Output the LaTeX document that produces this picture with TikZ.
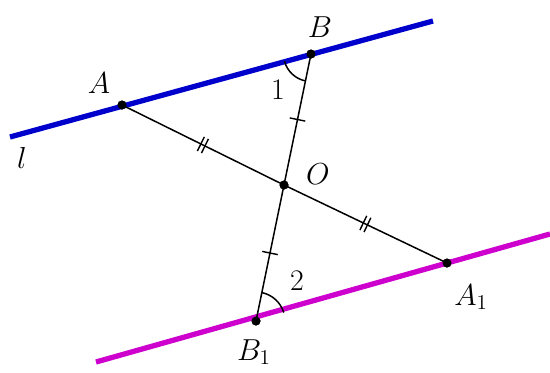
\documentclass[tikz,border=0pt]{standalone}
\usepackage{amsmath,amssymb}
\usepackage{xcolor}
\usepackage{tikz}
\usetikzlibrary{calc, angles, decorations.markings}

\definecolor{lineblue}{RGB}{0,0,205}
\definecolor{linemag}{RGB}{205,0,205}

\tikzset{
  dot/.style={circle, fill=black, inner sep=0pt, minimum size=0.18cm},
  lbl/.style={font=\fontsize{17}{19}\selectfont},
  onetick/.style={postaction={decorate, decoration={markings,
      mark=at position 0.5 with {\draw[line width=0.8pt] (0,-4.5pt) -- (0,4.5pt);}}}},
  twotick/.style={postaction={decorate, decoration={markings,
      mark=at position 0.5 with {\draw[line width=0.8pt] (-1.3pt,-4.5pt) -- (-1.3pt,4.5pt) (1.3pt,-4.5pt) -- (1.3pt,4.5pt);}}}}
}

\begin{document}
\begin{tikzpicture}[line width=0.85pt]
            \useasboundingbox (0,0) rectangle (11,7.44);

            % Points
            \node[dot] (A) at (2.44, 5.34) {};
            \node[dot] (B) at (6.22, 6.36) {};
            \node[dot] (O) at (5.68, 3.74) {};
            \node[dot] (A1) at (8.94, 2.18) {};
            \node[dot] (B1) at (5.12, 1.02) {};

            % Parallel lines
            \coordinate (lL) at (0.20, 4.70);
            \coordinate (lR) at (8.66, 7.02);
            \coordinate (mL) at (1.92, 0.20);
            \coordinate (mR) at (11.0, 2.76);
            \draw[lineblue, line width=3pt] (lL) -- (lR);
            \draw[linemag, line width=3pt] (mL) -- (mR);

            % Segments with equal marks
            \draw[twotick] (A.center) -- (O.center);
            \draw[twotick] (O.center) -- (A1.center);
            \draw[onetick] (O.center) -- (B.center);
            \draw[onetick] (B1.center) -- (O.center);

            % Angles
            \pic[draw, line width=0.85pt, angle radius=0.55cm] {angle = A--B--O};
            \pic[draw, line width=0.85pt, angle radius=0.58cm] {angle = A1--B1--O};

            % Dots again on top
            \foreach \p in {A,B,O,A1,B1}
              \fill (\p.center) circle (0.09);

            % Labels
            \node[lbl] (tA) at (1.98, 5.78) {$A$};
            \node[lbl] (tB) at (6.40, 6.90) {$B$};
            \node[lbl] (tO) at (6.36, 3.96) {$O$};
            \node[lbl] (tA1) at (9.42, 1.50) {$A_1$};
            \node[lbl] (tB1) at (5.08, 0.40) {$B_1$};
            \node[lbl] (tl) at (0.44, 4.28) {$l$};
            \node[lbl] (t1) at (5.56, 5.64) {1};
            \node[lbl] (t2) at (5.94, 1.82) {2};
        \end{tikzpicture}
\end{document}
